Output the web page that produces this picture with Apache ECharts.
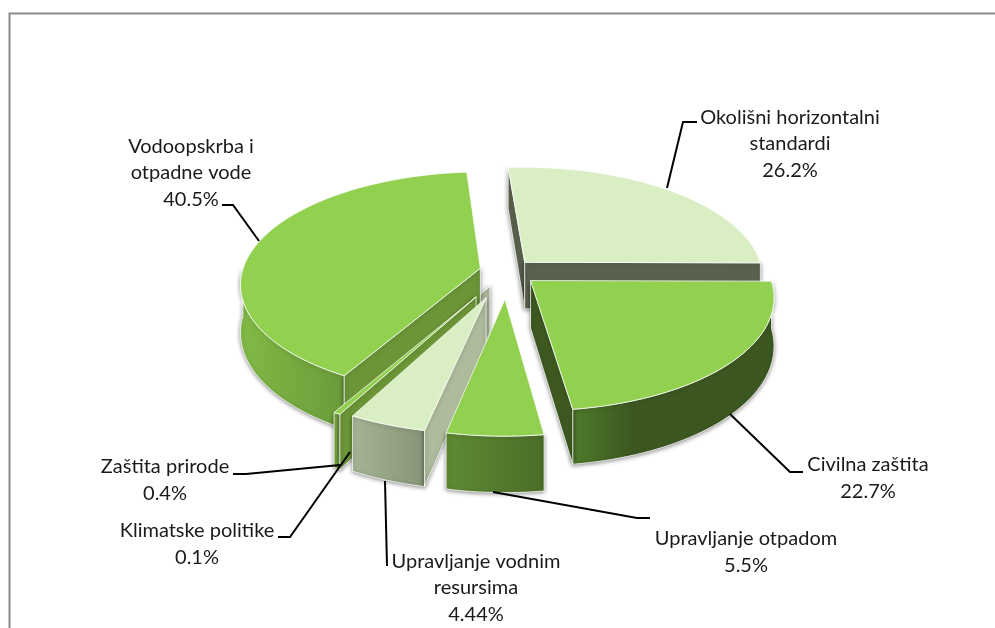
<!DOCTYPE html>
<html>
<head>
<meta charset="utf-8">
<title>Pie</title>
<script src="https://cdn.jsdelivr.net/npm/echarts@6/dist/echarts.min.js"></script>
<style>
html, body { margin: 0; padding: 0; background: #fff; }
#main { width: 995px; height: 628px; }
</style>
</head>
<body>
<div id="main"></div>
<script>
// data, clockwise from the top of the pie
var categories = ['Okolišni horizontalni\nstandardi', 'Civilna zaštita', 'Upravljanje otpadom', 'Upravljanje vodnim\nresursima', 'Klimatske politike', 'Zaštita prirode', 'Vodoopskrba i\notpadne vode'];
var values = [26.2, 22.7, 5.5, 4.44, 0.1, 0.4, 40.5];

// per slice look: how far it is pulled out, top colour, flat wall colour, curved wall gradient
var explode = [0.11, 0.13, 0.25, 0.25, 0.15, 0.26, 0.115];
var topColor = ['#d9eec3', '#92d050', '#92d050', '#d9eec3', '#d9eec3', '#92d050', '#92d050'];
var wallColor = ['#5a624e', '#3d5920', '#4f7a2c', '#aebb9c', '#aebb9c', '#6b9537', '#6b9537'];
var rimColor = [['#6a7360', '#5a624e'], ['#4f7a2c', '#3c5820'], ['#5f8a33', '#4c6e29'], ['#a5b494', '#869577'], ['#a5b494', '#869577'], ['#7fb644', '#6b9537'], ['#82ba46', '#6a9c3a']];
var rimMid = [1, 0.3, 1, 1, 1, 1, 1];   // where the gradient reaches its second colour
// paint order, back to front
var drawOrder = [0, 1, 4, 6, 5, 3, 2];

// label boxes and leader lines, in pixels of the page
var labelPos = [[790, 144], [868, 478], [746, 552], [476, 588], [197, 544], [165, 480], [191, 173]];
var leaders = [
    [[697, 122], [683, 122], [667, 188]],
    [[803, 472], [790, 472], [730, 414]],
    [[650, 518], [637, 518], [493, 492]],
    [[387, 566], [385, 481]],
    [[278, 537], [290, 537], [350, 452]],
    [[233, 474], [246, 474], [340, 465]],
    [[222, 205], [233, 205], [259, 241]]
];

var cx = 507, cy = 271;    // centre of the pie top
var rx = 238, ry = 110;    // radii of the ellipse
var persp = 0.134;         // front of the pie is nearer, so larger
var depth = 47;            // thickness
var startAngle = -4;

var total = 360 / 100;
var starts = [];
var acc = startAngle;
for (var i = 0; i < values.length; i++) {
    starts.push(acc);
    acc += values[i] * total;
}

// u to the right, v toward the viewer, h = 1 for the underside
function project(u, v, h) {
    var s = 1 / (1 - persp * v);
    return [cx + rx * u * s, cy + ry * v * s + h * depth * s];
}

function slicePoints(idx) {
    var a0 = starts[idx] * Math.PI / 180;
    var a1 = (starts[idx] + values[idx] * total) * Math.PI / 180;
    var mid = (a0 + a1) / 2;
    var ou = explode[idx] * Math.sin(mid);
    var ov = -explode[idx] * Math.cos(mid);
    var steps = Math.max(2, Math.ceil((a1 - a0) / 0.03));
    var arc = [], front = [];
    for (var k = 0; k <= steps; k++) {
        var a = a0 + (a1 - a0) * k / steps;
        var p = [ou + Math.sin(a), ov - Math.cos(a)];
        arc.push(p);
        if (Math.cos(a) <= 0) {
            front.push(p);    // only this part of the rim can be seen
        }
    }
    return { apex: [ou, ov], arc: arc, front: front };
}

function area(pts) {
    var s = 0;
    for (var i = 0; i < pts.length; i++) {
        var p = pts[i], q = pts[(i + 1) % pts.length];
        s += p[0] * q[1] - q[0] * p[1];
    }
    return s / 2;
}

function renderSlice(params, api) {
    var idx = api.value(0);
    var g = slicePoints(idx);
    var edge = 'rgba(255,255,255,0.75)';
    var shadow = { shadowColor: 'rgba(0,0,0,0.45)', shadowBlur: 4, shadowOffsetY: 1 };
    var children = [];

    // curved outer wall
    if (g.front.length > 1) {
        var rim = [];
        g.front.forEach(function (p) { rim.push(project(p[0], p[1], 0)); });
        g.front.slice().reverse().forEach(function (p) { rim.push(project(p[0], p[1], 1)); });
        children.push({
            type: 'polygon',
            shape: { points: rim },
            style: echarts.util.extend({
                fill: {
                    type: 'linear', x: 0, y: 0, x2: 1, y2: 0,
                    colorStops: [
                        { offset: 0, color: rimColor[idx][0] },
                        { offset: rimMid[idx], color: rimColor[idx][1] },
                        { offset: 1, color: rimColor[idx][1] }
                    ]
                },
                stroke: edge, lineWidth: 1
            }, shadow)
        });
    }

    // flat walls, only those that face the viewer
    [g.arc[0], g.arc[g.arc.length - 1]].forEach(function (p, side) {
        var wall = [
            project(g.apex[0], g.apex[1], 0),
            project(p[0], p[1], 0),
            project(p[0], p[1], 1),
            project(g.apex[0], g.apex[1], 1)
        ];
        if ((side === 0 && area(wall) < 0) || (side === 1 && area(wall) > 0)) {
            children.push({
                type: 'polygon',
                shape: { points: wall },
                style: echarts.util.extend({ fill: wallColor[idx], stroke: edge, lineWidth: 1 }, shadow)
            });
        }
    });

    // top face
    var top = [project(g.apex[0], g.apex[1], 0)];
    g.arc.forEach(function (p) { top.push(project(p[0], p[1], 0)); });
    children.push({
        type: 'polygon',
        shape: { points: top },
        style: { fill: topColor[idx], stroke: edge, lineWidth: 1 }
    });

    return { type: 'group', children: children };
}

var graphics = [
    { type: 'polyline', shape: { points: [[9.5, 628], [9.5, 13.5], [995, 13.5]] }, style: { stroke: '#8c8c8c', lineWidth: 2, fill: null } }
];
for (var n = 0; n < categories.length; n++) {
    graphics.push({
        type: 'polyline',
        z: 10,
        shape: { points: leaders[n] },
        style: { stroke: '#000', lineWidth: 2, fill: null }
    });
    graphics.push({
        type: 'text',
        z: 11,
        x: labelPos[n][0],
        y: labelPos[n][1],
        style: {
            text: categories[n] + '\n' + values[n] + '%',
            font: '20px Lato',
            fill: '#1a1a1a',
            align: 'center',
            verticalAlign: 'middle',
            lineHeight: 26.5
        }
    });
}

var myChart = echarts.init(document.getElementById('main'), null, { renderer: 'canvas' });
myChart.setOption({
    animation: false,
    backgroundColor: '#fff',
    tooltip: {},
    graphic: graphics,
    series: [{
        type: 'custom',
        coordinateSystem: 'none',
        silent: true,
        renderItem: renderSlice,
        data: drawOrder.map(function (i) { return [i, values[i]]; })
    }]
});
</script>
</body>
</html>
